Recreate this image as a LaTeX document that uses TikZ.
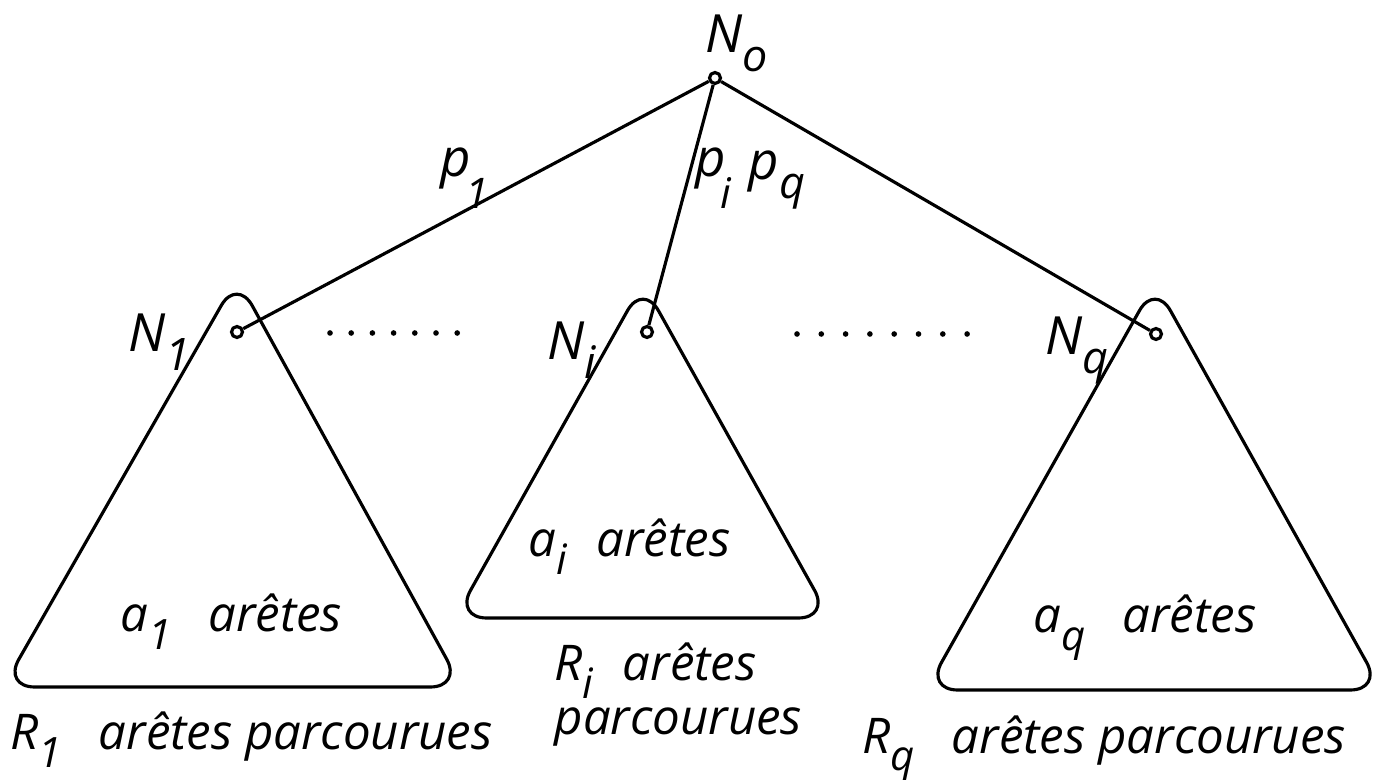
\documentclass[tikz,border=0pt]{standalone}
\usepackage{fontspec}
\setmainfont{Open Sans}
\usepackage{graphicx}
\usepackage{tikz}
\usetikzlibrary{positioning}

\newcommand{\idx}[1]{\raisebox{-0.36em}{\scalebox{0.85}{#1}}}
\newcommand{\lowidx}[1]{\kern-0.1em\raisebox{-0.6em}{\scalebox{0.8}{#1}}}

\begin{document}
\begin{tikzpicture}[
    vertex/.style={circle, draw, fill=white, inner sep=0pt, minimum size=0.11cm, line width=0.9pt},
    subtree/.style={draw, line width=0.9pt, rounded corners=9pt},
    edge/.style={line width=0.9pt},
    lbl/.style={font=\fontsize{14}{15.5}\selectfont\itshape, inner sep=0pt, anchor=base west},
    biglbl/.style={font=\fontsize{15}{18}\selectfont\itshape, inner sep=0pt, anchor=base west}]
    \useasboundingbox (0,0) rectangle (13.88,7.82);

    % Sub-trees R_1, R_i, R_q
    \draw[subtree] (2.3,0.95) -- (4.62,0.95) -- (2.37,5.04) -- (0.03,0.95) -- cycle;
    \draw[subtree] (6.4,1.64) -- (8.30,1.64) -- (6.43,4.99) -- (4.55,1.64) -- cycle;
    \draw[subtree] (11.5,0.92) -- (13.82,0.92) -- (11.55,4.99) -- (9.26,0.92) -- cycle;

    % Vertices
    \node[vertex] (n0) at (7.15,7.04) {};
    \node[vertex] (n1) at (2.37,4.50) {};
    \node[vertex] (ni) at (6.47,4.50) {};
    \node[vertex] (nq) at (11.56,4.48) {};

    % Paths from the root
    \draw[edge] (n0) -- (n1);
    \draw[edge] (n0) -- (ni);
    \draw[edge] (n0) -- (nq);

    % Omitted sub-trees
    \foreach \k in {0,...,6}
        \fill (3.30+0.212*\k,4.49) circle (0.8pt);
    \foreach \k in {0,...,7}
        \fill (7.97+0.243*\k,4.48) circle (0.8pt);

    % Vertex labels
    \node[biglbl] (l0) at (7.05,7.29) {N\idx{o}};
    \node[biglbl] (l1) at (1.28,4.30) {N\idx{1}};
    \node[biglbl] (li) at (5.47,4.22) {N\idx{i}};
    \node[biglbl] (lq) at (10.45,4.27) {N\idx{q}};

    % Path labels
    \node[biglbl] (p1) at (4.40,6.05) {p\lowidx{1}};
    \node[biglbl] (pi) at (6.95,6.05) {p\lowidx{i}};
    \node[biglbl] (pq) at (7.48,6.02) {p\idx{q}};

    % Edge counts
    \node[lbl] (a1) at (1.20,1.50) {a\idx{1}\hspace{0.75em}arêtes};
    \node[lbl] (ai) at (5.28,2.25) {a\idx{i}\hspace{0.6em}arêtes};
    \node[lbl] (aq) at (10.33,1.49) {a\idx{q}\hspace{0.75em}arêtes};

    % Edges already walked
    \node[lbl] (r1) at (0.10,0.32) {R\idx{1}\hspace{0.75em}arêtes parcourues};
    \node[lbl, align=left] (ri) at (5.54,0.47) {R\idx{i}\hspace{0.6em}arêtes\\parcourues};
    \node[lbl] (rq) at (8.62,0.29) {R\idx{q}\hspace{0.75em}arêtes parcourues};
\end{tikzpicture}
\end{document}
